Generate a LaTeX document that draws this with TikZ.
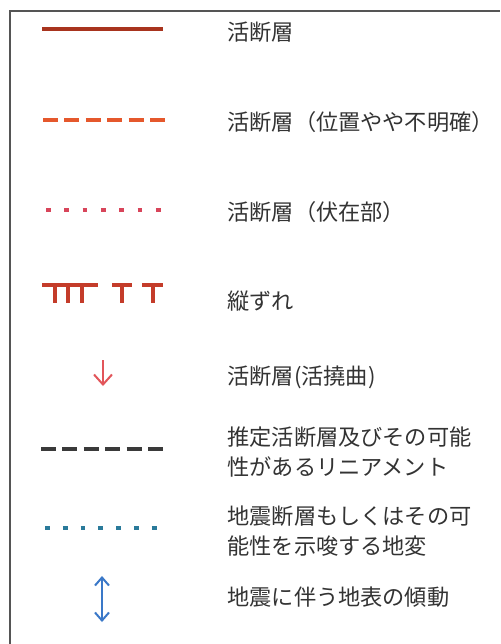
\documentclass[tikz,border=0pt]{standalone}
\usepackage{fontspec}
\setmainfont{Noto Sans CJK JP}
\usetikzlibrary{arrows.meta}
\definecolor{frm}{HTML}{555555}
\definecolor{txt}{HTML}{333333}
\definecolor{solidred}{HTML}{A8341E}
\definecolor{dashred}{HTML}{E5582C}
\definecolor{dotred}{HTML}{D8455A}
\definecolor{ttred}{HTML}{C43C2A}
\definecolor{arrred}{HTML}{E2555A}
\definecolor{dblack}{HTML}{3A3A3A}
\definecolor{dotblue}{HTML}{2A7A9A}
\definecolor{arrblue}{HTML}{3A78C8}
\tikzset{
  x=0.5pt, y=-0.5pt,
  lbl/.style={anchor=west, inner sep=0pt, text=txt, font=\fontsize{11.1pt}{15pt}\selectfont, align=left},
  symline/.style={line width=2pt},
}
\begin{document}
\begin{tikzpicture}
\useasboundingbox (0,0) rectangle (500,644);
\fill[white] (0,0) rectangle (500,644);
% frame
\draw[frm, line width=1pt] (10,644) -- (10,11) -- (500,11);

% 1 solid
\draw[symline, solidred, line width=2.2pt] (42,29) -- (163,29);
\node[lbl] (t1) at (227,32) {活断層};

% 2 dashed
\draw[symline, dashred, dash pattern=on 7.5pt off 3.2pt] (43,120) -- (165,120);
\node[lbl] (t2) at (227,122) {活断層（位置やや不明確）};

% 3 dotted red
\draw[symline, dotred, line width=2.4pt, dash pattern=on 2.4pt off 6.75pt] (46,210) -- (162,210);
\node[lbl] (t3) at (227,212) {活断層（伏在部）};

% 4 vertical offset symbol
\begin{scope}[ttred, line width=1.8pt]
  \draw (42,285) -- (98,285);
  \foreach \sx in {55,68,82} \draw (\sx,285) -- (\sx,303);
  \draw (112,285) -- (132,285);
  \draw (122,285) -- (122,303);
  \draw (142,285) -- (163,285);
  \draw (153,285) -- (153,303);
\end{scope}
\node[lbl] (t4) at (227,301) {縦ずれ};

% 5 flexure arrow
\draw[arrred, line width=1pt, -{Straight Barb[length=5pt, width=9pt]}] (103,360) -- (103,386);
\node[lbl] (t5) at (227,377) {活断層(活撓曲)};

% 6 black dashed
\draw[symline, dblack, line width=1.8pt, dash pattern=on 7.5pt off 3.2pt] (41,449) -- (163,449);
\node[lbl] (t6) at (227,452) {推定活断層及びその可能\\性があるリニアメント};

% 7 blue dotted
\draw[symline, dotblue, line width=2.4pt, dash pattern=on 2.4pt off 6.5pt] (45,528) -- (157,528);
\node[lbl] (t7) at (227,531) {地震断層もしくはその可\\能性を示唆する地変};

% 8 tilt double arrow
\draw[arrblue, line width=1pt, {Straight Barb[length=4pt, width=7pt]}-{Straight Barb[length=4pt, width=7pt]}] (102,576) -- (102,622);
\node[lbl] (t8) at (227,597) {地震に伴う地表の傾動};
\end{tikzpicture}
\end{document}
